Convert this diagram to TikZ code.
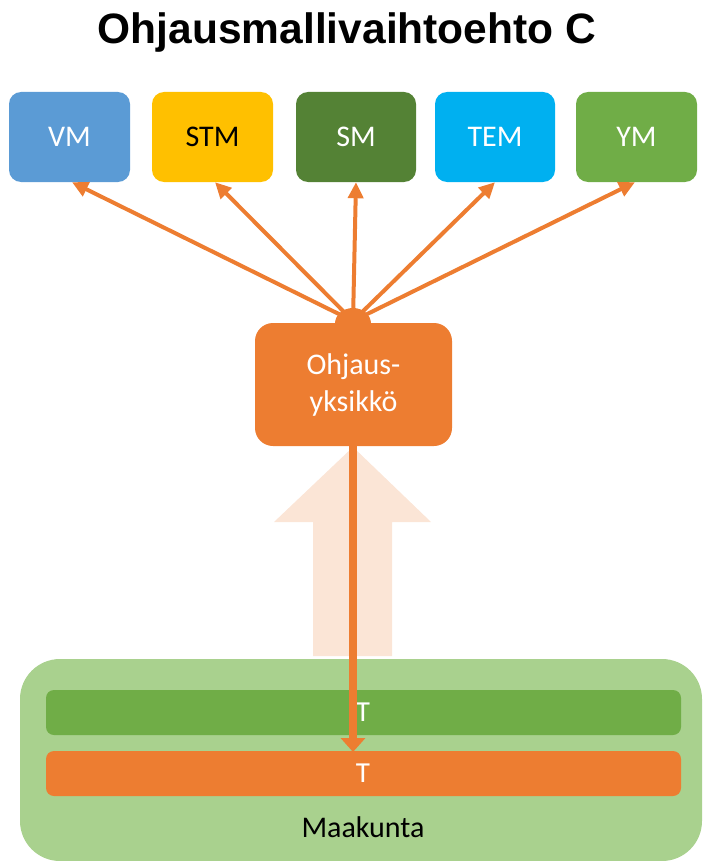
\documentclass[tikz,border=0pt]{standalone}
\usepackage{fontspec}
\setmainfont{Carlito}
\newfontfamily\titlefont{Liberation Sans}
\usetikzlibrary{arrows.meta,calc}
\definecolor{cvm}{HTML}{5B9BD5}
\definecolor{cstm}{HTML}{FFC000}
\definecolor{csm}{HTML}{548235}
\definecolor{ctem}{HTML}{00B0F0}
\definecolor{cym}{HTML}{70AD47}
\definecolor{corange}{HTML}{ED7D31}
\definecolor{cpeach}{HTML}{FBE5D6}
\definecolor{cregion}{HTML}{A9D18E}
\tikzset{
  topbox/.style={rounded corners=12pt, minimum width=120pt, minimum height=90pt, inner sep=0pt, text=white, font=\fontsize{30}{36}\selectfont},
  bar/.style={rounded corners=8pt, minimum width=635pt, minimum height=45pt, inner sep=0pt, text=white, font=\fontsize{29}{34}\selectfont},
  ray/.style={corange, line width=4pt, -{Triangle[width=15pt,length=16pt]}},
  down/.style={corange, line width=8pt, -{Triangle[width=24pt,length=14pt]}}
}
\begin{document}
\begin{tikzpicture}[x=1pt,y=-1pt]
\useasboundingbox (0,0) rectangle (703,861);
% title
\node[font=\titlefont\bfseries\fontsize{42.5}{50}\selectfont, anchor=base] (title) at (347,44) {Ohjausmallivaihtoehto C};
% big light arrow
\fill[cpeach] (353,447) -- (431,522) -- (392,522) -- (392,656) -- (313,656) -- (313,522) -- (274,522) -- cycle;
% region
\node[fill=cregion, rounded corners=40pt, minimum width=682pt, minimum height=202pt, inner sep=0pt] (region) at (361,760) {};
\node[bar, fill=cym] (tgreen) at (363.5,712.5) {};
\node[bar, fill=corange] (torange) at (363.5,773.5) {};
\node[text=white, font=\fontsize{29}{34}\selectfont] (tg) at (363,712.5) {T};
\node[text=white, font=\fontsize{29}{34}\selectfont] (to) at (363,773.5) {T};
\node[font=\fontsize{30}{36}\selectfont] (maak) at (363,827) {Maakunta};
% center box
\node[fill=corange, rounded corners=18pt, minimum width=197pt, minimum height=123pt, inner sep=0pt, text=white, align=center, font=\fontsize{30}{37}\selectfont] (oy) at (353.5,384.5) {Ohjaus-\\yksikkö};
% down arrow
\coordinate (dtip) at (353,752);
\draw[down] (oy.south -| dtip) -- (dtip);
% top boxes
\node[topbox, fill=cvm, minimum width=121pt] (vm) at (69.5,137) {VM};
\node[topbox, fill=cstm, minimum width=121pt, text=black] (stm) at (212.5,137) {STM};
\node[topbox, fill=csm] (sm) at (356,137) {SM};
\node[topbox, fill=ctem] (tem) at (495,137) {TEM};
\node[topbox, fill=cym, minimum width=121pt] (ym) at (636.5,137) {YM};
% rays
\coordinate (hub) at (353,321);
\draw[ray] (hub) -- ($(vm.south)+(2.5,0)$);
\draw[ray] (hub) -- ($(stm.south)+(2.5,0)$);
\draw[ray] (hub) -- (sm.south);
\draw[ray] (hub) -- (tem.south);
\draw[ray] (hub) -- ($(ym.south)+(-1.5,0)$);
\fill[corange] (335,323.5) .. controls (335,315) and (343.1,308) .. (353,308) .. controls (362.9,308) and (371,315) .. (371,323.5) -- cycle;
\end{tikzpicture}
\end{document}
